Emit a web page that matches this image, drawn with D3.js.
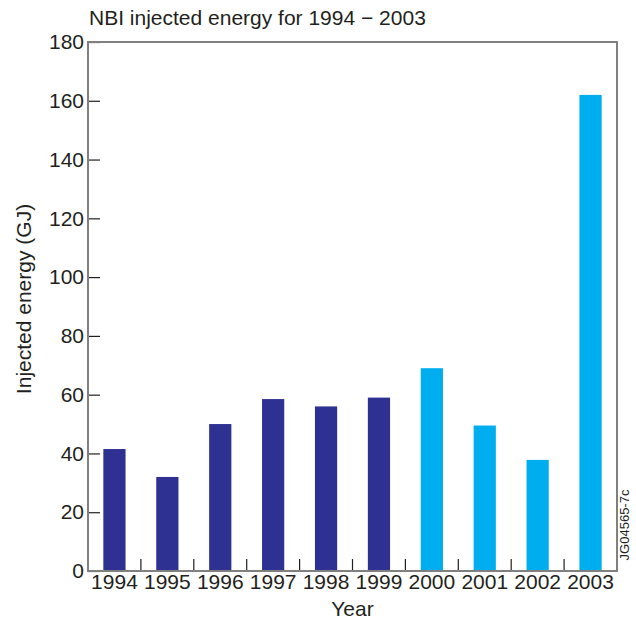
<!DOCTYPE html>
<html>
<head>
  <script src="https://d3js.org/d3.v7.min.js"></script>
  <style>
    body { margin: 0; background: #fff; }
    text { font-family: "Liberation Sans", Arial, sans-serif; fill: #231f20; }
    .axis path { display: none; }
    .axis line { stroke: #231f20; stroke-width: 1.2; }
  </style>
</head>
<body>
  <div id="chart"></div>
  <script>
    // data
    var years = ["1994", "1995", "1996", "1997", "1998", "1999", "2000", "2001", "2002", "2003"];
    var energy = [41.5, 32, 50, 58.5, 56, 59, 69, 49.5, 37.8, 162];
    var yTicks = [0, 20, 40, 60, 80, 100, 120, 140, 160, 180];
    var lateYears = ["2000", "2001", "2002", "2003"];

    var width = 636, height = 622;
    var margin = {top: 42, right: 19, bottom: 51, left: 88};
    var w = width - margin.left - margin.right,
        h = height - margin.top - margin.bottom;

    var svg = d3.select("#chart").append("svg")
      .attr("width", width)
      .attr("height", height);

    var g = svg.append("g")
      .attr("transform", "translate(" + margin.left + "," + margin.top + ")");

    var x = d3.scaleBand().domain(years).range([0, w])
      .paddingInner(0.58).paddingOuter(0.29);
    var xStep = d3.scaleBand().domain(years).range([0, w]); // for separator ticks
    var y = d3.scaleLinear().domain([0, 180]).range([h, 0]);

    // bars
    g.selectAll(".bar")
      .data(years)
      .enter().append("rect")
      .attr("class", "bar")
      .attr("x", function (d) {return x(d);})
      .attr("width", x.bandwidth())
      .attr("y", function (d, i) {return y(energy[i]);})
      .attr("height", function (d, i) {return h - y(energy[i]);})
      .attr("fill", function (d) {return lateYears.indexOf(d) >= 0 ? "#00aeef" : "#2e3192";});

    // y axis, ticks pointing inward
    g.append("g")
      .attr("class", "axis")
      .call(d3.axisLeft(y).tickValues(yTicks).tickSize(-12).tickPadding(4))
      .selectAll("text")
      .style("font-size", "21px");

    // x axis labels
    g.append("g")
      .attr("class", "axis")
      .attr("transform", "translate(0," + h + ")")
      .call(d3.axisBottom(x).tickSize(0).tickPadding(3))
      .selectAll("text")
      .style("font-size", "21px");

    // separator ticks between years
    g.selectAll(".sep")
      .data(years.slice(1))
      .enter().append("line")
      .attr("x1", function (d) {return xStep(d);})
      .attr("x2", function (d) {return xStep(d);})
      .attr("y1", h)
      .attr("y2", h - 12)
      .attr("stroke", "#231f20")
      .attr("stroke-width", 1.2);

    // frame
    g.append("rect")
      .attr("width", w)
      .attr("height", h)
      .attr("fill", "none")
      .attr("stroke", "#808080")
      .attr("stroke-width", 2);

    // title
    svg.append("text")
      .attr("x", 89)
      .attr("y", 25)
      .style("font-size", "21px")
      .text("NBI injected energy for 1994 \u2212 2003");

    // axis titles
    svg.append("text")
      .attr("x", margin.left + w / 2)
      .attr("y", 616)
      .attr("text-anchor", "middle")
      .style("font-size", "21px")
      .text("Year");

    svg.append("text")
      .attr("transform", "translate(31,299) rotate(-90)")
      .attr("text-anchor", "middle")
      .style("font-size", "21px")
      .text("Injected energy (GJ)");

    // figure code
    svg.append("text")
      .attr("transform", "translate(629,525) rotate(-90)")
      .attr("text-anchor", "middle")
      .style("font-size", "13px")
      .text("JG04565-7c");
  </script>
</body>
</html>
